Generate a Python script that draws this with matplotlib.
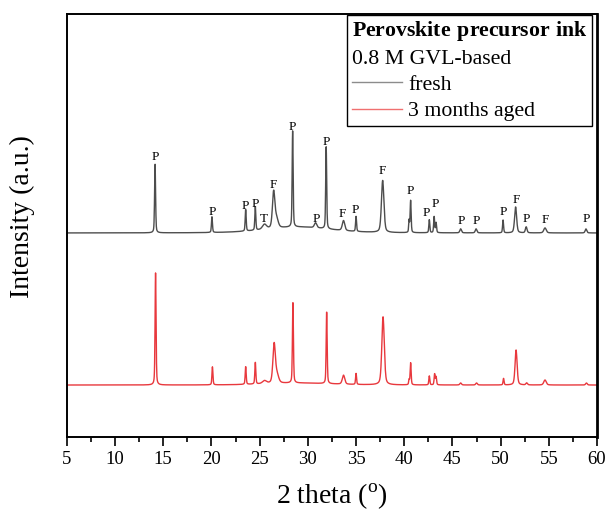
import numpy as np
import matplotlib
matplotlib.use("Agg")
import matplotlib.pyplot as plt
from matplotlib.lines import Line2D

plt.rcParams['font.family'] = 'Liberation Serif'
plt.rcParams['mathtext.fontset'] = 'custom'
plt.rcParams['mathtext.rm'] = 'Liberation Serif'
plt.rcParams['mathtext.bf'] = 'Liberation Serif:bold'

# peak lists: position (deg), height above baseline, FWHM (deg)
fresh_pos = [14.15, 20.05, 23.55, 24.55, 25.5, 26.45, 26.75, 28.42, 29.0, 30.8, 31.9,
             33.7, 35.0, 37.76, 40.5, 40.66, 42.6, 43.1, 43.3, 45.85, 47.45, 50.25,
             51.55, 52.65, 54.6, 58.85]
fresh_h = [70, 16, 22, 24, 5, 36, 9, 96, 6, 5, 82,
           10, 15, 52, 12, 32, 13, 16, 10, 4, 4, 13,
           26, 6, 5, 4]
fresh_w = [0.12, 0.12, 0.12, 0.12, 0.5, 0.3, 0.4, 0.12, 8.0, 0.3, 0.12,
           0.3, 0.12, 0.3, 0.1, 0.12, 0.12, 0.12, 0.12, 0.2, 0.2, 0.12,
           0.25, 0.2, 0.3, 0.2]
fresh_base = 204

aged_pos = [14.2, 20.1, 23.55, 24.55, 25.5, 26.5, 26.8, 28.45, 29.0, 31.95,
            33.7, 35.0, 37.8, 40.5, 40.66, 42.6, 43.15, 43.3, 45.85, 47.5, 50.3,
            51.6, 52.7, 54.6, 58.9]
aged_h = [112, 18, 18, 22, 3, 39, 8, 82, 2, 73,
          9, 11, 68, 5, 22, 9, 11, 8, 2, 2, 6.5,
          35, 2, 5, 2]
aged_w = [0.12, 0.12, 0.12, 0.12, 0.5, 0.3, 0.4, 0.12, 8.0, 0.12,
          0.3, 0.12, 0.3, 0.1, 0.12, 0.12, 0.12, 0.12, 0.2, 0.2, 0.12,
          0.25, 0.2, 0.3, 0.2]
aged_base = 52

# phase labels over the fresh pattern
lab_txt = ['P', 'P', 'P', 'P', 'T', 'F', 'P', 'P', 'P', 'F', 'P', 'F', 'P', 'P', 'P',
           'P', 'P', 'P', 'F', 'P', 'F', 'P']
lab_x = [14.13, 20.05, 23.55, 24.58, 25.44, 26.45, 28.42, 30.84, 31.95, 33.61, 34.92,
         37.76, 40.60, 42.26, 43.19, 45.89, 47.52, 50.28, 51.60, 52.71, 54.61, 58.93]
lab_y = [279.7, 225.3, 231.3, 232.7, 218.3, 252, 310.3, 218, 295.3, 223, 227,
         266.3, 246, 223.7, 232.7, 216.3, 216.3, 225.3, 237, 217.7, 217, 217.7]

two_theta = np.arange(5, 60.001, 0.02)


def pattern(pos, h, w, base):
    y = np.full_like(two_theta, base, dtype=float)
    for p, a, fw in zip(pos, h, w):
        g = np.exp(-4 * np.log(2) * ((two_theta - p) / fw) ** 2)
        l = 1 / (1 + 4 * ((two_theta - p) / fw) ** 2)
        y += a * (0.6 * g + 0.4 * l)
    return y


fig = plt.figure(figsize=(6.08, 5.16), dpi=100)
ax = fig.add_axes([0.110, 0.153, 0.872, 0.820])

ax.plot(two_theta, pattern(fresh_pos, fresh_h, fresh_w, fresh_base), color='#4d4d4d', lw=1)
ax.plot(two_theta, pattern(aged_pos, aged_h, aged_w, aged_base), color='#e8383d', lw=1)

for t, x, y in zip(lab_txt, lab_x, lab_y):
    ax.text(x, y, t, ha='center', va='center', fontsize=9.5)

ax.set_xlim(5, 60)
ax.set_ylim(0, 423)
ax.set_xticks(np.arange(5, 61, 5))
ax.set_xticks(np.arange(7.5, 60, 5), minor=True)
ax.set_yticks([])
ax.tick_params(axis='x', which='major', direction='out', length=6.5, width=1.2, labelsize=13.5, pad=3.5)
ax.tick_params(axis='x', which='minor', direction='out', length=3.3, width=1.2)
for s in ax.spines.values():
    s.set_linewidth(1.4)
ax.spines['right'].set_linewidth(2)

ax.set_xlabel('2 theta ($^\\mathrm{o}$)', fontsize=20, labelpad=10)
ax.set_ylabel('Intensity (a.u.)', fontsize=20)
ax.yaxis.set_label_coords(-0.06, 0.522)

handles = [Line2D([], [], color='#8c8c8c', lw=1), Line2D([], [], color='#f07070', lw=1)]
leg = ax.legend(handles, ['fresh', '3 months aged'],
                title='$\\mathbf{Perovskite\\ precursor\\ ink}$\n0.8 M GVL-based',
                loc='upper right', bbox_to_anchor=(0.9906, 0.9976), borderaxespad=0,
                fontsize=15.7, title_fontsize=15.7,
                alignment='left', fancybox=False, edgecolor='black', framealpha=1,
                handlelength=2.3, handletextpad=0.3, borderpad=0.2, labelspacing=0.28)
leg.get_title().set_linespacing(1.45)
leg.get_frame().set_linewidth(1)

fig.savefig('out.png', dpi=100)
